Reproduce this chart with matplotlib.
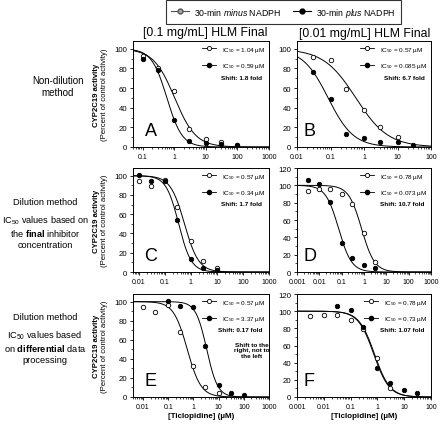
import numpy as np
import matplotlib
matplotlib.use('Agg')
import matplotlib.pyplot as plt
from matplotlib.lines import Line2D
from matplotlib.ticker import LogLocator, FuncFormatter, MultipleLocator, NullFormatter

plt.rcParams['font.family'] = ['Liberation Sans', 'DejaVu Sans']
plt.rcParams['mathtext.fontset'] = 'custom'
plt.rcParams['mathtext.rm'] = 'Liberation Sans'
plt.rcParams['mathtext.it'] = 'Liberation Sans:italic'
plt.rcParams['mathtext.bf'] = 'Liberation Sans:bold'

# ---- data ----
# A : non-dilution, 0.1 mg/mL
a_x = [0.1, 0.3, 1, 3, 10, 30, 100]
a_minus = [93, 80, 57, 18, 8, 5, 2]
a_plus = [90, 78, 28, 6, 4, 3.5, 2]
# B : non-dilution, 0.01 mg/mL
b_x_minus = [0.03, 0.1, 0.3, 1, 3, 10]
b_minus = [92, 89, 59, 38, 20, 10]
b_x_plus = [0.03, 0.1, 0.3, 1, 3, 10, 30]
b_plus = [76, 49, 13, 9, 5, 5, 2]
# C : dilution, final concentration, 0.1 mg/mL
c_x = [0.01, 0.03, 0.1, 0.3, 1, 3, 10]
c_minus = [94, 89, 96, 68, 32, 11, 4]
c_plus = [101, 95, 94, 54, 13, 4, 2.5]
# D : dilution, final concentration, 0.01 mg/mL
d_x = [0.003, 0.01, 0.03, 0.1, 0.3, 1, 3]
d_minus = [94, 96, 96, 90, 79, 45, 11]
d_plus = [106, 101, 81, 34, 16, 8, 5]
# E : dilution, differential processing, 0.1 mg/mL
e_x_minus = [0.01, 0.03, 0.1, 0.3, 1, 3, 10]
e_minus = [94, 89, 96, 68, 32, 11, 4]
e_x_plus = [0.1, 0.3, 1, 3, 10, 30, 100]
e_plus = [101, 95, 94, 54, 13, 4, 2.5]
# F : dilution, differential processing, 0.01 mg/mL
f_x_minus = [0.003, 0.01, 0.03, 0.1, 0.3, 1, 3]
f_minus = [94, 96, 96, 90, 79, 45, 11]
f_x_plus = [0.03, 0.1, 0.3, 1, 3, 10, 30]
f_plus = [106, 101, 81, 34, 16, 8, 5]

# fitted IC50 (uM) and hill slopes, minus / plus NADPH
ic50_minus = [1.04, 0.57, 0.57, 0.78, 0.57, 0.78]
ic50_plus = [0.59, 0.085, 0.34, 0.073, 3.37, 0.73]
hill_minus = [1.3, 0.9, 1.6, 1.5, 1.6, 1.5]
hill_plus = [1.8, 1.15, 1.8, 1.5, 2.0, 1.5]
ic50_minus_txt = ['1.04', '0.57', '0.57', '0.78', '0.57', '0.78']
ic50_plus_txt = ['0.59', '0.085', '0.34', '0.073', '3.37', '0.73']
shift_txt = ['1.8', '6.7', '1.7', '10.7', '0.17', '1.07']
letters = ['A', 'B', 'C', 'D', 'E', 'F']

panels = [
    (a_x, a_minus, a_x, a_plus, (0.05, 1000), 108),
    (b_x_minus, b_minus, b_x_plus, b_plus, (0.01, 100), 108),
    (c_x, c_minus, c_x, c_plus, (0.006, 1000), 108),
    (d_x, d_minus, d_x, d_plus, (0.001, 1000), 120),
    (e_x_minus, e_minus, e_x_plus, e_plus, (0.004, 1000), 108),
    (f_x_minus, f_minus, f_x_plus, f_plus, (0.001, 100), 120),
]

W, H = 440, 427
fig = plt.figure(figsize=(4.4, 4.27), dpi=100)

col_left = [133, 297]
col_width = [136, 134]
row_top = [42, 169, 295]
row_bottom = [148, 273, 398]


def hill_curve(x, ic50, h):
    return 100.0 / (1.0 + (x / ic50) ** h)


def fmt(v, pos):
    return '%g' % v


for i, (xm, ym, xp, yp, xlim, ytop) in enumerate(panels):
    r, c = i // 2, i % 2
    ax = fig.add_axes([col_left[c] / W, 1 - row_bottom[r] / H,
                       col_width[c] / W, (row_bottom[r] - row_top[r]) / H])
    ax.set_xscale('log')
    xs = np.logspace(np.log10(xlim[0]), np.log10(xlim[1]), 300)
    ax.plot(xs, hill_curve(xs, ic50_minus[i], hill_minus[i]), color='black', lw=0.7)
    ax.plot(xs, hill_curve(xs, ic50_plus[i], hill_plus[i]), color='black', lw=0.7)
    ax.plot(xm, ym, 'o', ms=3.2, mfc='white', mec='black', mew=0.6, zorder=3)
    ax.plot(xp, yp, 'o', ms=3.2, mfc='black', mec='black', mew=0.6, zorder=4)
    ax.set_xlim(*xlim)
    ax.set_ylim(0, ytop)
    ax.xaxis.set_major_locator(LogLocator(base=10, numticks=12))
    ax.xaxis.set_minor_locator(LogLocator(base=10, subs=np.arange(2, 10), numticks=12))
    ax.xaxis.set_major_formatter(FuncFormatter(fmt))
    ax.xaxis.set_minor_formatter(NullFormatter())
    ax.yaxis.set_major_locator(MultipleLocator(20))
    ax.yaxis.set_minor_locator(MultipleLocator(10))
    ax.tick_params(which='major', direction='out', length=2.5, width=0.6, labelsize=5.0, pad=1.5)
    ax.tick_params(axis='y', labelsize=5.6)
    ax.tick_params(which='minor', direction='out', length=1.3, width=0.5)
    for s in ax.spines.values():
        s.set_linewidth(0.7)

    handles = [Line2D([], [], color='black', lw=0.6, marker='o', ms=3, mfc='white', mec='black', mew=0.6),
               Line2D([], [], color='black', lw=0.6, marker='o', ms=3, mfc='black', mec='black')]
    labels = ['IC$_{50}$ = %s \u00b5M' % ic50_minus_txt[i], 'IC$_{50}$ = %s \u00b5M' % ic50_plus_txt[i]]
    ax.legend(handles, labels, loc='upper right', frameon=False, fontsize=4.6,
              handlelength=2.2, handletextpad=1.0, labelspacing=1.15, borderaxespad=0.2,
              borderpad=0.35)
    ax.text(0.95, 0.66, 'Shift: %s fold' % shift_txt[i], transform=ax.transAxes,
            fontsize=4.6, fontweight='bold', ha='right', va='center')
    lx = 0.085 if c == 0 else 0.05
    ax.text(lx, 0.08, letters[i], transform=ax.transAxes, fontsize=13, ha='left', va='bottom')

    if c == 0:
        ax.text(-0.265, 0.5, 'CYP2C19 activity', transform=ax.transAxes, rotation=90,
                fontsize=5.6, fontweight='bold', ha='center', va='center')
        ax.text(-0.21, 0.5, '(Percent of control activity)', transform=ax.transAxes,
                rotation=90, fontsize=5.6, ha='center', va='center')
    if r == 2:
        ax.set_xlabel('[Ticlopidine] (\u00b5M)', fontsize=5.8, fontweight='bold', labelpad=1.5)
    if i == 4:
        ax.text(0.87, 0.46, 'Shift to the\nright, not to\nthe left', transform=ax.transAxes,
                fontsize=4.6, fontweight='bold', ha='center', va='center', linespacing=1.15)

# column titles
fig.text(205 / W, 1 - 33 / H, '[0.1 mg/mL] HLM Final', fontsize=8.8, ha='center', va='center')
fig.text(365 / W, 1 - 34 / H, '[0.01 mg/mL] HLM Final', fontsize=8.8, ha='center', va='center')

# row labels
fig.text(58 / W, 1 - 87 / H, 'Non-dilution\nmethod', fontsize=7, ha='center', va='center',
         linespacing=1.25)
fig.text(45 / W, 1 - 203 / H, 'Dilution method', fontsize=6.7, ha='center', va='center')
fig.text(45 / W, 1 - 232 / H, 'IC$_{50}$ values based on\nthe $\\bf{final}$ inhibitor\nconcentration',
         fontsize=6.6, ha='center', va='center', linespacing=1.2)
fig.text(45 / W, 1 - 318 / H, 'Dilution method', fontsize=6.7, ha='center', va='center')
fig.text(45 / W, 1 - 347 / H, 'IC$_{50}$ values based\non $\\bf{differential}$ data\nprocessing',
         fontsize=6.7, ha='center', va='center', linespacing=1.2)

# top legend
top_handles = [Line2D([], [], color='#555555', lw=0.8, marker='o', ms=3.5, mfc='#aaaaaa', mec='#555555'),
               Line2D([], [], color='black', lw=0.8, marker='o', ms=3.5, mfc='black', mec='black')]
top_labels = ['30-min $\\it{minus}$ NADPH', '30-min $\\it{plus}$ NADPH']
leg = fig.legend(top_handles, top_labels, loc='center', bbox_to_anchor=(283.5 / W, 1 - 13 / H),
                 ncol=2, fontsize=6.3, frameon=True, fancybox=False, edgecolor='black',
                 handlelength=2.0, handletextpad=0.6, columnspacing=1.4, borderpad=0.6)
leg.get_frame().set_linewidth(0.8)

fig.savefig('out.png', dpi=100)
